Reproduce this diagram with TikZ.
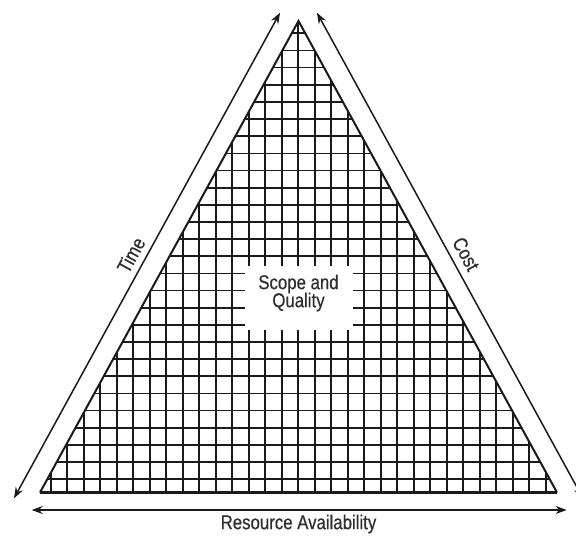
\documentclass[tikz,border=0pt]{standalone}
\usepackage{fontspec}
\newfontfamily\condfont[FakeStretch=0.84,FakeBold=0.4]{Liberation Sans}
\usetikzlibrary{arrows.meta}
\definecolor{inkc}{HTML}{1A1A1A}
\definecolor{textc}{HTML}{2E2E2E}
\tikzset{
  gridline/.style={draw=inkc, line width=1.7pt},
  edge/.style={draw=inkc, line width=2pt, line join=miter},
  dimarrow/.style={draw=inkc, line width=1.5pt, {Stealth[length=11pt,width=8pt]}-{Stealth[length=11pt,width=8pt]}},
  lbl/.style={text=textc, font=\condfont\fontsize{20}{20}\selectfont, inner sep=0pt, align=center}
}
\begin{document}
\begin{tikzpicture}[x=1pt,y=-1pt]
\useasboundingbox (0,0) rectangle (576,538);
\clip (0,0) rectangle (576,538);
\fill[white] (0,0) rectangle (576,538);
% triangle corners
\coordinate (L) at (40,492.5);
\coordinate (R) at (557,492.5);
\coordinate (T) at (298.5,21);
% grid
\begin{scope}
  \clip (L) -- (R) -- (T) -- cycle;
  \foreach \k in {-15,...,15} {
    \draw[gridline] ({298.3+16.5*\k},0) -- ({298.3+16.5*\k},540);
  }
  \foreach \k in {0,...,26} {
    \draw[gridline] (0,{33.3+17.15*\k}) -- (576,{33.3+17.15*\k});
  }
\end{scope}
% white box in the middle
\fill[white] (245,265.5) rectangle (353,330);
\node[lbl] (sq) at (298.5,293) {Scope and\\[-2pt]Quality};
% triangle outline
\draw[edge] (L) -- (T) -- (R);
\draw[draw=inkc, line width=3pt] (L) -- (R);
% arrows
\coordinate (a1) at (280,12.7);
\coordinate (a2) at (14,498.3);
\coordinate (b1) at (317,12.7);
\coordinate (b2) at (583,498.3);
\coordinate (c1) at (31.7,510);
\coordinate (c2) at (566.7,510);
\draw[dimarrow] (a1) -- (a2);
\draw[dimarrow] (b1) -- (b2);
\draw[dimarrow] (c1) -- (c2);
% labels
\node[lbl, rotate=61.3] (time) at (131,255) {Time};
\node[lbl, rotate=-61.3] (cost) at (466,254) {Cost};
\node[lbl] (res) at (298.5,524) {Resource Availability};
\end{tikzpicture}
\end{document}
